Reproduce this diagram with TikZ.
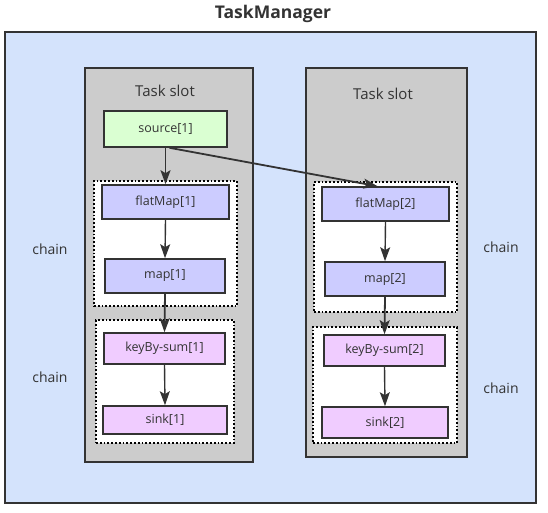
\documentclass[tikz,border=0pt]{standalone}
\usepackage{fontspec}
\setmainfont{Open Sans}
\usepackage{tikz}
\usetikzlibrary{arrows.meta, positioning}

\definecolor{tmblue}{HTML}{D4E3FC}
\definecolor{slotgray}{HTML}{CCCCCC}
\definecolor{srcgreen}{HTML}{DAFFD2}
\definecolor{opblue}{HTML}{CCCCFF}
\definecolor{oppink}{HTML}{F0CCFF}
\definecolor{ink}{HTML}{333333}

\begin{document}
\begin{tikzpicture}[x=1pt, y=-1pt, >={Stealth[length=14pt, width=10pt, inset=3pt]},
line width = 1.6 pt, draw=ink, text=ink,
box/.style = {rectangle, draw=ink, inner sep=0pt},
op/.style = {box, font=\fontsize{12.5}{15}\selectfont},
chainbox/.style = {rectangle, draw=black, dotted, line width=1.8pt, fill=white, inner sep=0pt},
lbl/.style = {font=\fontsize{14}{17}\selectfont}]

\useasboundingbox (0,0) rectangle (548,512);

% the task manager
\node [box, fill=tmblue, minimum width=531, minimum height=471] (tm) at (270.5,267.5) {};
\node [font=\bfseries\fontsize{17.5}{21}\selectfont] (tmtitle) at (273,14) {TaskManager};

% slots
\node [box, fill=slotgray, minimum width=168, minimum height=394] (slotA) at (169,265) {};
\node [box, fill=slotgray, minimum width=161, minimum height=389] (slotB) at (386.5,262.5) {};
\node [font=\fontsize{15}{18}\selectfont] (slotAtitle) at (165,91) {Task slot};
\node [font=\fontsize{15}{18}\selectfont] (slotBtitle) at (383,94) {Task slot};

% chains
\node [chainbox, minimum width=143, minimum height=125] (chainA1) at (165.5,243.5) {};
\node [chainbox, minimum width=138, minimum height=123] (chainA2) at (165,381.5) {};
\node [chainbox, minimum width=143, minimum height=130] (chainB1) at (385.5,247) {};
\node [chainbox, minimum width=144, minimum height=116] (chainB2) at (385,385) {};
\node [lbl] (lblA1) at (50,249) {chain};
\node [lbl] (lblA2) at (50,377) {chain};
\node [lbl] (lblB1) at (501,247) {chain};
\node [lbl] (lblB2) at (501,388) {chain};

% operators, slot 1
\node [op, fill=srcgreen, minimum width=123, minimum height=36] (source) at (165.5,129) {source[1]};
\node [op, fill=opblue, minimum width=127, minimum height=34] (flatmapA) at (165.5,202) {flatMap[1]};
\node [op, fill=opblue, minimum width=120, minimum height=34] (mapA) at (165,276) {map[1]};
\node [op, fill=oppink, minimum width=121, minimum height=31] (sumA) at (164.5,348.5) {keyBy-sum[1]};
\node [op, fill=oppink, minimum width=124, minimum height=28] (sinkA) at (165,420) {sink[1]};

% operators, slot 2
\node [op, fill=opblue, minimum width=127, minimum height=34] (flatmapB) at (385.5,204) {flatMap[2]};
\node [op, fill=opblue, minimum width=120, minimum height=34] (mapB) at (385,279) {map[2]};
\node [op, fill=oppink, minimum width=121, minimum height=31] (sumB) at (384.5,350.5) {keyBy-sum[2]};
\node [op, fill=oppink, minimum width=126, minimum height=31] (sinkB) at (385,422.5) {sink[2]};

% data flow
\draw [->, line width=1.8pt] (source.south) -- (flatmapA.north);
\draw [->, line width=1.8pt] ([xshift=4pt]source.south) -- ([xshift=-8pt]flatmapB.north);
\draw [->, line width=1.4pt] (flatmapA.south) -- (mapA.north);
\draw [->, line width=1.8pt] (mapA.south) -- (sumA.north);
\draw [->, line width=1.4pt] (sumA.south) -- (sinkA.north);
\draw [->, line width=1.4pt] (flatmapB.south) -- (mapB.north);
\draw [->, line width=1.8pt] (mapB.south) -- (sumB.north);
\draw [->, line width=1.4pt] (sumB.south) -- (sinkB.north);

\end{tikzpicture}
\end{document}
